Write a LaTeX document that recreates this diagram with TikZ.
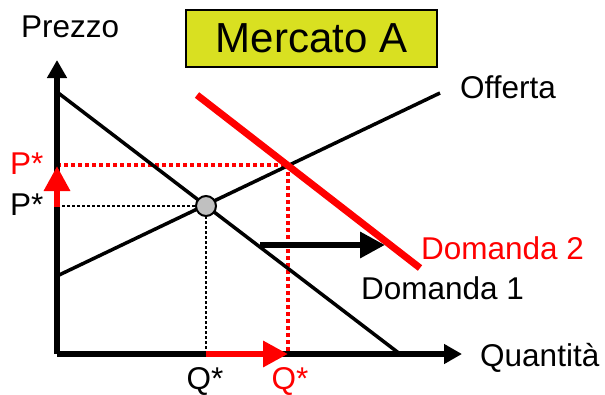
\documentclass[tikz,border=0pt]{standalone}
\usepackage{fontspec}
\setmainfont{Liberation Sans}
\usetikzlibrary{arrows.meta}
\definecolor{boxyellow}{RGB}{217,224,33}
\definecolor{ptgray}{RGB}{192,192,192}
\tikzset{
  axisline/.style={line width=5.5pt,-{Triangle[length=18pt,width=19pt]}},
  curve/.style={line width=3.5pt},
  redcurve/.style={line width=7pt,red},
  reddots/.style={line width=3.5pt,red,dash pattern=on 4pt off 3pt},
  blackdots/.style={line width=2.5pt,dash pattern=on 2.5pt off 2.5pt},
  shiftarrow/.style={line width=6.5pt,-{Triangle[length=25pt,width=25pt]}},
  lbl/.style={inner sep=0pt,font=\fontsize{31.5}{31.5}\selectfont},
}
\begin{document}
\begin{tikzpicture}[x=1pt,y=-1pt]
\useasboundingbox (0,0) rectangle (605,394);
% coordinates
\coordinate (O) at (57,354);
\coordinate (ytop) at (57,60);
\coordinate (xend) at (462,354);
\coordinate (s1) at (57,276);
\coordinate (s2) at (440,93);
\coordinate (d1a) at (57,92);
\coordinate (d1b) at (400,354);
\coordinate (d2a) at (197,95);
\coordinate (d2b) at (420,268);
\coordinate (E) at (206,206);
\coordinate (E2) at (288,165);
\coordinate (pE) at (57,206);
\coordinate (pE2) at (57,165);
\coordinate (qE) at (206,354);
\coordinate (qE2) at (288,354);
\coordinate (pa) at (57,207);
\coordinate (pb) at (57,166);
\coordinate (sa) at (260,245);
\coordinate (sb) at (385,245);
% dotted guides
\draw[blackdots] (pE) -- (E);
\draw[blackdots] (E) -- (qE);
\draw[reddots] (pE2) -- (E2);
\draw[reddots] (E2) -- (qE2);
% curves
\draw[curve] (s1) -- (s2);
\draw[curve] (d1a) -- (d1b);
\draw[redcurve] (d2a) -- (d2b);
% axes
\draw[axisline] (O) -- (ytop);
\draw[axisline] (O) -- (xend);
% shift arrows
\draw[shiftarrow] (sa) -- (sb);
\draw[shiftarrow,red] (pa) -- (pb);
\draw[shiftarrow,red] (qE) -- (qE2);
% equilibrium point
\node[circle,draw,line width=2pt,fill=ptgray,minimum size=20pt,inner sep=0pt] (eq) at (E) {};
% title
\node[draw,line width=2pt,fill=boxyellow,minimum width=251pt,minimum height=57pt,inner sep=0pt,font=\fontsize{42}{42}\selectfont] (title) at (311.5,38.5) {Mercato A};
% labels
\node[lbl,anchor=base west] (prezzo) at (21,37) {Prezzo};
\node[lbl,anchor=base west] (offerta) at (460,98) {Offerta};
\node[lbl,anchor=base west,text=red] (p2) at (10,174) {P*};
\node[lbl,anchor=base west] (p1) at (10,215) {P*};
\node[lbl,anchor=base] (q1) at (205,389) {Q*};
\node[lbl,anchor=base,text=red] (q2) at (290,389) {Q*};
\node[lbl,anchor=base west] (quant) at (480,366) {Quantità};
\node[lbl,anchor=base west,text=red] (dom2) at (421,259) {Domanda 2};
\node[lbl,anchor=base west] (dom1) at (361,299) {Domanda 1};
\end{tikzpicture}
\end{document}
